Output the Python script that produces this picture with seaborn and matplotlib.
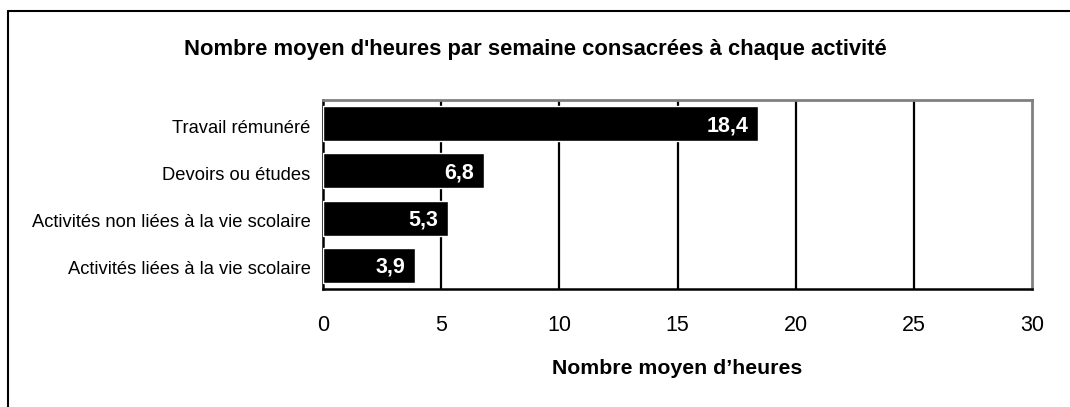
import numpy as np
import pandas as pd
import matplotlib
matplotlib.use("Agg")
import matplotlib.pyplot as plt
import matplotlib.transforms as mtransforms
import seaborn as sns

# données
activites = ["Travail rémunéré", "Devoirs ou études",
             "Activités non liées à la vie scolaire", "Activités liées à la vie scolaire"]
heures = [18.4, 6.8, 5.3, 3.9]
etiquettes = ["18,4", "6,8", "5,3", "3,9"]
graduations_x = [0, 5, 10, 15, 20, 25, 30]

titre = "Nombre moyen d'heures par semaine consacrées à chaque activité"
titre_x = "Nombre moyen d\u2019heures"

sns.set_style("white")
plt.rcParams["font.family"] = ["Liberation Sans", "DejaVu Sans"]
plt.rcParams["text.color"] = "black"
plt.rcParams["axes.labelcolor"] = "black"
plt.rcParams["xtick.color"] = "black"
plt.rcParams["ytick.color"] = "black"

df = pd.DataFrame({"activite": activites, "heures": heures})

fig = plt.figure(figsize=(10.7, 4.07), dpi=100)
ax = fig.add_axes([323 / 1070, 1 - 289 / 407, 709 / 1070, 189 / 407])

sns.barplot(data=df, x="heures", y="activite", orient="h", color="black",
            saturation=1, width=0.74, ax=ax, zorder=3)

# valeurs dans les barres
for i, (v, txt) in enumerate(zip(heures, etiquettes)):
    ax.annotate(txt, (v, i), xytext=(-7, -1.5), textcoords="offset points",
                ha="right", va="center", color="white", fontsize=15.5,
                fontweight="bold", zorder=4)

ax.set_xlim(0, 30)
ax.set_ylim(3.5, -0.5)
ax.set_xticks(graduations_x)
ax.set_xticklabels([str(g) for g in graduations_x], fontsize=15.5)
for g in graduations_x[1:-1]:
    ax.axvline(g, color="black", lw=1.6, zorder=1)

# graduations y entre les catégories
ax.set_yticks(range(len(activites)))
ax.set_yticklabels(activites, fontsize=13.2)
ax.set_yticks(np.arange(-0.5, len(activites), 1), minor=True)
ax.tick_params(axis="y", which="major", length=0, pad=9)
ax.tick_params(axis="y", which="minor", length=5, width=1.8, color="black", direction="out")
ax.tick_params(axis="x", length=7, width=1.6, color="black", direction="out", pad=12)
decalage = mtransforms.ScaledTranslation(0, -2.5 / 100, fig.dpi_scale_trans)
for lab in ax.get_yticklabels():
    lab.set_transform(lab.get_transform() + decalage)

ax.set_ylabel("")
ax.set_xlabel(titre_x, fontsize=15.3, fontweight="bold", labelpad=16)

for s in ["left", "bottom"]:
    ax.spines[s].set_color("black")
    ax.spines[s].set_linewidth(1.8)
for s in ["top", "right"]:
    ax.spines[s].set_color("#808080")
    ax.spines[s].set_linewidth(2)

fig.text(0.5, 1 - 49 / 407, titre, ha="center", va="center",
         fontsize=15.8, fontweight="bold")

# cadre extérieur (haut et gauche)
fig.add_artist(plt.Line2D([8 / 1070, 1], [1 - 11 / 407, 1 - 11 / 407],
                          color="black", lw=1.5, transform=fig.transFigure))
fig.add_artist(plt.Line2D([8 / 1070, 8 / 1070], [0, 1 - 11 / 407],
                          color="black", lw=1.5, transform=fig.transFigure))

fig.savefig("out.png", dpi=100)
